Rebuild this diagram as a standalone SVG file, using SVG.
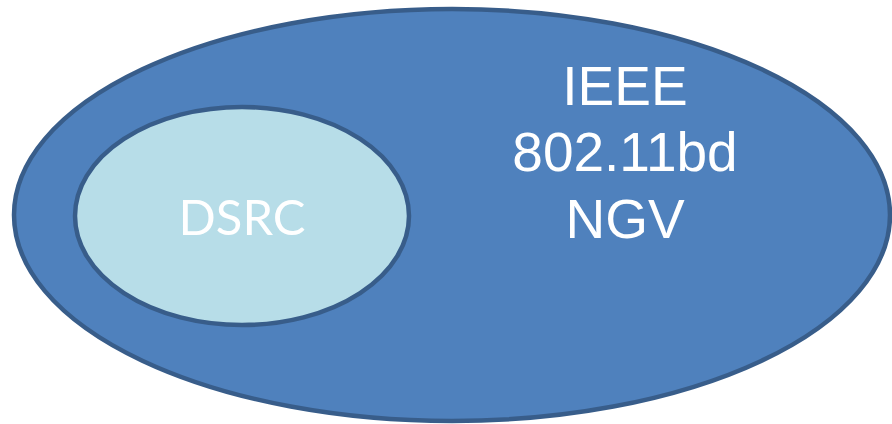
<svg xmlns="http://www.w3.org/2000/svg" width="892" height="424" viewBox="0 0 892 424">
<style>
.shape{stroke:#385D8A;stroke-width:4.5}
.lbl{fill:#FFFFFF;text-anchor:middle}
</style>
<rect width="892" height="424" fill="#FFFFFF"/>
<g id="ngv">
<ellipse class="shape" cx="452" cy="215" rx="438" ry="206" fill="#4F81BD"/>
<text class="lbl" font-family="'Liberation Sans', Arial, sans-serif" font-size="55"><tspan x="625" y="105">IEEE</tspan><tspan x="625" y="171">802.11bd</tspan><tspan x="625" y="238">NGV</tspan></text>
</g>
<g id="dsrc">
<ellipse class="shape" cx="242" cy="216" rx="167" ry="109" fill="#B7DDE8"/>
<text class="lbl" x="242" y="235" font-family="Lato, 'Open Sans', sans-serif" font-size="49">DSRC</text>
</g>
<g id="connectors"/>
</svg>
